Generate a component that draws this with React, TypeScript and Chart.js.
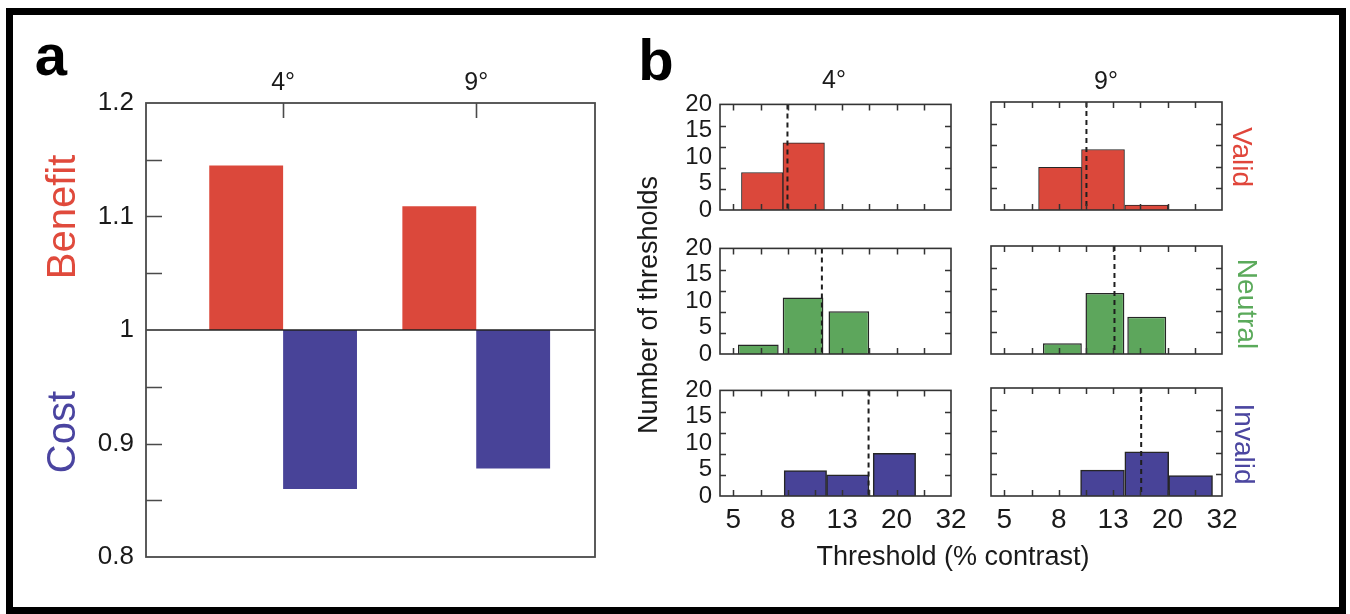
import React, { useEffect, useRef } from "react";
import { Chart, registerables } from "chart.js";

Chart.register(...registerables);

const FONT = '"Liberation Sans", Arial, Helvetica, sans-serif';
const NARROW = '"Liberation Sans Narrow", "Liberation Sans", Arial, sans-serif';

// ---------------- Panel a data ----------------
const A_CATEGORIES = ["4°", "9°"];
const A_X_POSITIONS = [1, 2];
const BENEFIT = [1.145, 1.109];
const COST = [0.86, 0.878];
const A_Y_TICKS = [0.8, 0.9, 1.0, 1.1, 1.2];
const A_Y_LABELS = ["0.8", "0.9", "1", "1.1", "1.2"];
const A_Y_MINOR_TICKS = [0.85, 0.9, 0.95, 1.05, 1.1, 1.15];

// ---------------- Panel b data ----------------
const B_X_TICKS = [5.04, 8, 12.7, 20.16, 32];
const B_X_LABELS = ["5", "8", "13", "20", "32"];
const B_X_MINOR_TICKS = [5.04, 6.35, 8, 10.08, 12.7, 16, 20.16, 25.4];
const B_Y_TICKS = [0, 5, 10, 15, 20];
const B_Y_LABELS = ["0", "5", "10", "15", "20"];
const B_Y_MINOR_TICKS = [4, 8, 12, 16];

const VALID_4_BINS = [6.44, 9.16];
const VALID_4_COUNTS = [7.1, 12.7];
const VALID_9_BINS = [8.09, 11.65, 16.83];
const VALID_9_COUNTS = [7.9, 11.2, 0.9];
const NEUTRAL_4_BINS = [6.23, 9.11, 13.44];
const NEUTRAL_4_COUNTS = [1.8, 10.7, 8.1];
const NEUTRAL_9_BINS = [8.25, 11.84, 16.89];
const NEUTRAL_9_COUNTS = [2.0, 11.3, 6.9];
const INVALID_4_BINS = [9.29, 13.32, 19.79];
const INVALID_4_COUNTS = [4.8, 4.0, 8.1];
const INVALID_9_BINS = [11.6, 16.89, 24.51];
const INVALID_9_COUNTS = [4.8, 8.2, 3.8];

const MEDIANS_4 = [7.98, 10.69, 15.89]; // valid, neutral, invalid
const MEDIANS_9 = [10.12, 12.84, 16.11];

const RED = "#DB483B";
const GREEN = "#5DA65C";
const BLUE = "#484398";

// ---------------- plugins ----------------
const frameA = {
  id: "frameA",
  afterDatasetsDraw(chart: any) {
    const { ctx, chartArea: a, scales } = chart;
    const x = scales.x;
    const y = scales.y;
    ctx.save();
    ctx.strokeStyle = "#4a4a4a";
    ctx.lineWidth = 1.6;
    ctx.beginPath();
    A_Y_MINOR_TICKS.forEach((v) => {
      const py = Math.round(y.getPixelForValue(v)) + 0.5;
      ctx.moveTo(a.left, py);
      ctx.lineTo(a.left + 16, py);
    });
    A_X_POSITIONS.forEach((v) => {
      const px = Math.round(x.getPixelForValue(v)) + 0.5;
      ctx.moveTo(px, a.top);
      ctx.lineTo(px, a.top + 15);
    });
    ctx.stroke();
    ctx.strokeStyle = "#222";
    ctx.lineWidth = 1.6;
    ctx.beginPath();
    const p1 = y.getPixelForValue(1);
    ctx.moveTo(a.left, p1);
    ctx.lineTo(a.right, p1);
    ctx.stroke();
    ctx.strokeStyle = "#4a4a4a";
    ctx.lineWidth = 1.8;
    ctx.strokeRect(a.left, a.top, a.right - a.left, a.bottom - a.top);
    ctx.restore();
  },
};

const histFrame = {
  id: "histFrame",
  afterDatasetsDraw(chart: any, _args: any, opts: any) {
    const { ctx, chartArea: a, scales } = chart;
    const x = scales.x;
    const y = scales.y;
    ctx.save();
    // median dashed line
    const pm = x.getPixelForValue(opts.median);
    ctx.setLineDash([5, 4]);
    ctx.lineWidth = 2;
    ctx.strokeStyle = "#1e1e1e";
    ctx.beginPath();
    ctx.moveTo(pm, a.top);
    ctx.lineTo(pm, a.bottom);
    ctx.stroke();
    ctx.setLineDash([]);
    // ticks
    ctx.strokeStyle = "#333";
    ctx.lineWidth = 1.5;
    ctx.beginPath();
    B_X_MINOR_TICKS.forEach((v) => {
      const px = Math.round(x.getPixelForValue(v)) + 0.5;
      ctx.moveTo(px, a.top);
      ctx.lineTo(px, a.top + 6);
      ctx.moveTo(px, a.bottom);
      ctx.lineTo(px, a.bottom - 6);
    });
    B_Y_MINOR_TICKS.forEach((v) => {
      const py = Math.round(y.getPixelForValue(v)) + 0.5;
      ctx.moveTo(a.left, py);
      ctx.lineTo(a.left + 6, py);
      ctx.moveTo(a.right, py);
      ctx.lineTo(a.right - 6, py);
    });
    ctx.stroke();
    ctx.lineWidth = 1.6;
    ctx.strokeRect(a.left, a.top, a.right - a.left, a.bottom - a.top);
    ctx.restore();
  },
};

// ---------------- chart configs ----------------
function panelAConfig(): any {
  return {
    type: "bar",
    data: {
      datasets: [
        {
          label: "Benefit",
          data: A_X_POSITIONS.map((x, i) => ({ x, y: [1, BENEFIT[i]] })),
          backgroundColor: RED,
          borderWidth: 0,
          categoryPercentage: 0.765,
          barPercentage: 1,
        },
        {
          label: "Cost",
          data: A_X_POSITIONS.map((x, i) => ({ x, y: [1, COST[i]] })),
          backgroundColor: BLUE,
          borderWidth: 0,
          categoryPercentage: 0.765,
          barPercentage: 1,
        },
      ],
    },
    options: {
      responsive: false,
      animation: false,
      devicePixelRatio: 1,
      layout: { padding: { left: 86, top: 53, right: 25, bottom: 57 } },
      plugins: { legend: { display: false }, tooltip: { enabled: false } },
      scales: {
        x: {
          type: "linear",
          position: "top",
          min: 0.29,
          max: 2.615,
          offset: false,
          grid: { display: false, drawTicks: false },
          border: { display: false },
          afterBuildTicks: (s: any) => {
            s.ticks = A_X_POSITIONS.map((v) => ({ value: v }));
          },
          afterFit: (s: any) => {
            s.height = 50;
          },
          ticks: {
            autoSkip: false,
            maxRotation: 0,
            padding: 5,
            color: "#1a1a1a",
            font: { family: FONT, size: 25 },
            callback: (_v: any, i: number) => A_CATEGORIES[i],
          },
        },
        y: {
          type: "linear",
          min: 0.8,
          max: 1.2,
          grid: { display: false, drawTicks: false },
          border: { display: false },
          afterBuildTicks: (s: any) => {
            s.ticks = A_Y_TICKS.map((v) => ({ value: v }));
          },
          afterFit: (s: any) => {
            s.width = 60;
          },
          ticks: {
            autoSkip: false,
            padding: 12,
            color: "#1a1a1a",
            font: { family: FONT, size: 26 },
            callback: (_v: any, i: number) => A_Y_LABELS[i],
          },
        },
      },
    },
    plugins: [frameA],
  };
}

function histConfig(
  bins: number[],
  counts: number[],
  color: string,
  borderWidth: number,
  barPct: number,
  median: number,
  showY: boolean,
  showX: boolean
): any {
  return {
    type: "bar",
    data: {
      datasets: [
        {
          data: bins.map((b, i) => ({ x: b, y: counts[i] })),
          backgroundColor: color,
          borderColor: "#262626",
          borderWidth,
          borderSkipped: "bottom",
          barPercentage: barPct,
          categoryPercentage: 1,
        },
      ],
    },
    options: {
      responsive: false,
      animation: false,
      devicePixelRatio: 1,
      layout: { padding: { left: 30, top: 20, right: 25, bottom: 10 } },
      plugins: {
        legend: { display: false },
        tooltip: { enabled: false },
        histFrame: { median },
      },
      scales: {
        x: {
          type: "logarithmic",
          position: "bottom",
          min: 4.5,
          max: 32,
          offset: false,
          grid: { display: false, drawTicks: false, offset: false },
          border: { display: false },
          afterBuildTicks: (s: any) => {
            s.ticks = B_X_TICKS.map((v) => ({ value: v }));
          },
          afterFit: (s: any) => {
            s.height = 45;
          },
          ticks: {
            display: showX,
            autoSkip: false,
            maxRotation: 0,
            padding: 7,
            color: "#1a1a1a",
            font: { family: NARROW, size: 28 },
            callback: (_v: any, i: number) => B_X_LABELS[i],
          },
        },
        y: {
          type: "linear",
          min: 0,
          max: 20,
          grid: { display: false, drawTicks: false },
          border: { display: false },
          afterBuildTicks: (s: any) => {
            s.ticks = B_Y_TICKS.map((v) => ({ value: v }));
          },
          afterFit: (s: any) => {
            s.width = 45;
          },
          ticks: {
            display: showY,
            autoSkip: false,
            padding: 8,
            color: "#1a1a1a",
            font: { family: NARROW, size: 24 },
            callback: (_v: any, i: number) => B_Y_LABELS[i],
          },
        },
      },
    },
    plugins: [histFrame],
  };
}

// ---------------- components ----------------
function ChartCanvas({ config, left, top, width, height }: any) {
  const ref = useRef<HTMLCanvasElement>(null);
  useEffect(() => {
    const chart = new Chart(ref.current as HTMLCanvasElement, config);
    return () => chart.destroy();
  }, []);
  return (
    <canvas
      ref={ref}
      width={width}
      height={height}
      style={{ position: "absolute", left, top, width, height }}
    />
  );
}

function Txt({ x, y, rot = 0, size, color = "#1a1a1a", bold = false, children }: any) {
  return (
    <div
      style={{
        position: "absolute",
        left: x,
        top: y,
        transform: `translate(-50%, -50%) rotate(${rot}deg)`,
        fontFamily: FONT,
        fontSize: size,
        lineHeight: 1,
        color,
        fontWeight: bold ? "bold" : "normal",
        whiteSpace: "nowrap",
      }}
    >
      {children}
    </div>
  );
}

const FRAME_W = 231;
const FRAME_H = 108;
const COL_X = [720, 991];
const ROW_Y = [102, 246, 388];

function Histo({ col, row, bins, counts, color, borderWidth, barPct, median }: any) {
  const left = COL_X[col] - 75;
  const top = ROW_Y[row] - 20;
  const cfg = histConfig(bins, counts, color, borderWidth, barPct, median, col === 0, row === 2);
  return <ChartCanvas config={cfg} left={left} top={top} width={FRAME_W + 100} height={FRAME_H + 75} />;
}

export default function App() {
  return (
    <div
      style={{
        position: "fixed",
        left: 0,
        top: 0,
        width: 1350,
        height: 614,
        background: "#ffffff",
        overflow: "hidden",
      }}
    >
      <ChartCanvas config={panelAConfig()} left={0} top={0} width={620} height={614} />

      <Histo col={0} row={0} bins={VALID_4_BINS} counts={VALID_4_COUNTS} color={RED} borderWidth={1} barPct={1} median={MEDIANS_4[0]} />
      <Histo col={1} row={0} bins={VALID_9_BINS} counts={VALID_9_COUNTS} color={RED} borderWidth={1} barPct={1} median={MEDIANS_9[0]} />
      <Histo col={0} row={1} bins={NEUTRAL_4_BINS} counts={NEUTRAL_4_COUNTS} color={GREEN} borderWidth={1.5} barPct={0.91} median={MEDIANS_4[1]} />
      <Histo col={1} row={1} bins={NEUTRAL_9_BINS} counts={NEUTRAL_9_COUNTS} color={GREEN} borderWidth={1.5} barPct={0.93} median={MEDIANS_9[1]} />
      <Histo col={0} row={2} bins={INVALID_4_BINS} counts={INVALID_4_COUNTS} color={BLUE} borderWidth={1.5} barPct={1} median={MEDIANS_4[2]} />
      <Histo col={1} row={2} bins={INVALID_9_BINS} counts={INVALID_9_COUNTS} color={BLUE} borderWidth={1.5} barPct={1} median={MEDIANS_9[2]} />

      <Txt x={51} y={55} size={58} bold color="#000">a</Txt>
      <Txt x={656} y={60} size={58} bold color="#000">b</Txt>
      <Txt x={61} y={217} size={40} rot={-90} color="#E04A3C">Benefit</Txt>
      <Txt x={61} y={432} size={40} rot={-90} color="#4A44A0">Cost</Txt>

      <Txt x={834} y={79} size={25}>4°</Txt>
      <Txt x={1106} y={80} size={25}>9°</Txt>
      <Txt x={1242} y={157} size={28} rot={90} color="#E0463B">Valid</Txt>
      <Txt x={1247} y={304} size={28} rot={90} color="#5BAA5B">Neutral</Txt>
      <Txt x={1244} y={444} size={28} rot={90} color="#4B46A0">Invalid</Txt>
      <Txt x={648} y={305} size={27} rot={-90}>Number of thresholds</Txt>
      <Txt x={953} y={556} size={27}>Threshold (% contrast)</Txt>

      <div
        style={{
          position: "absolute",
          left: 6,
          top: 8,
          width: 1340,
          height: 606,
          boxSizing: "border-box",
          border: "7px solid #000",
          pointerEvents: "none",
        }}
      />
    </div>
  );
}
